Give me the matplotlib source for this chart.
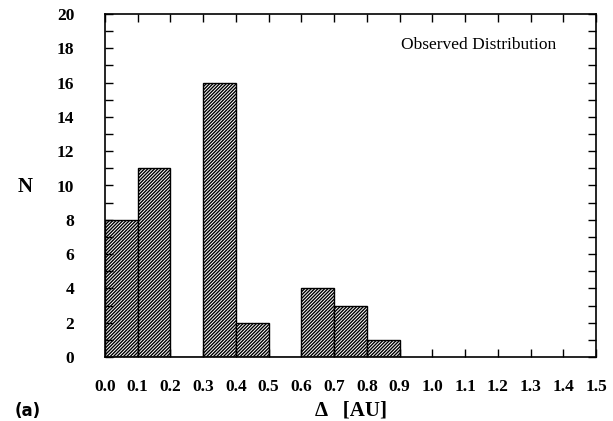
import numpy as np
import matplotlib
matplotlib.use('Agg')
from matplotlib import pyplot as plt

# histogram of Delta [AU], bin width 0.1
bin_left = [0.0, 0.1, 0.2, 0.3, 0.4, 0.5, 0.6, 0.7, 0.8]
counts = [8, 11, 0, 16, 2, 0, 4, 3, 1]
xtick_vals = [round(0.1 * i, 1) for i in range(16)]
ytick_vals = list(range(0, 21, 2))

plt.rcParams['font.family'] = ['Liberation Serif', 'DejaVu Serif']
plt.rcParams['hatch.linewidth'] = 1.0

fig = plt.figure(figsize=(6.13, 4.21), dpi=100)
ax = fig.add_axes([105/613, 1-357/421, (596-105)/613, (357-14)/421])

ax.bar(bin_left, counts, width=0.1, align='edge', color='white',
       edgecolor='black', hatch='//////////', linewidth=1.0)

ax.set_xlim(0, 1.5)
ax.set_ylim(0, 20)
ax.set_xticks(xtick_vals)
ax.set_xticklabels(['%.1f' % v for v in xtick_vals], fontsize=12.5, fontweight='bold')
ax.set_yticks(ytick_vals)
ax.set_yticklabels([str(v) for v in ytick_vals], fontsize=12.5, fontweight='bold')
ax.set_yticks(range(0, 21), minor=True)

ax.tick_params(axis='both', which='both', direction='in', top=True, right=True, width=1.0)
ax.tick_params(axis='x', which='major', length=6, pad=16)
ax.tick_params(axis='y', which='major', length=6, pad=22)
ax.tick_params(axis='y', which='minor', length=6)
for s in ax.spines.values():
    s.set_linewidth(1.2)

ax.text(0.92, 0.91, 'Observed Distribution', transform=ax.transAxes,
        ha='right', va='center', fontsize=12.5)

fig.text(25/613, 1-187/421, 'N', fontsize=15, fontweight='bold', ha='center', va='center')
fig.text(351/613, 1-410/421, '\u0394   [AU]', fontsize=15, fontweight='bold',
         ha='center', va='center')
fig.text(28/613, 1-411/421, '(a)', fontsize=12, fontweight='bold', ha='center',
         va='center', family='DejaVu Sans')

fig.savefig('out.png', dpi=100)
